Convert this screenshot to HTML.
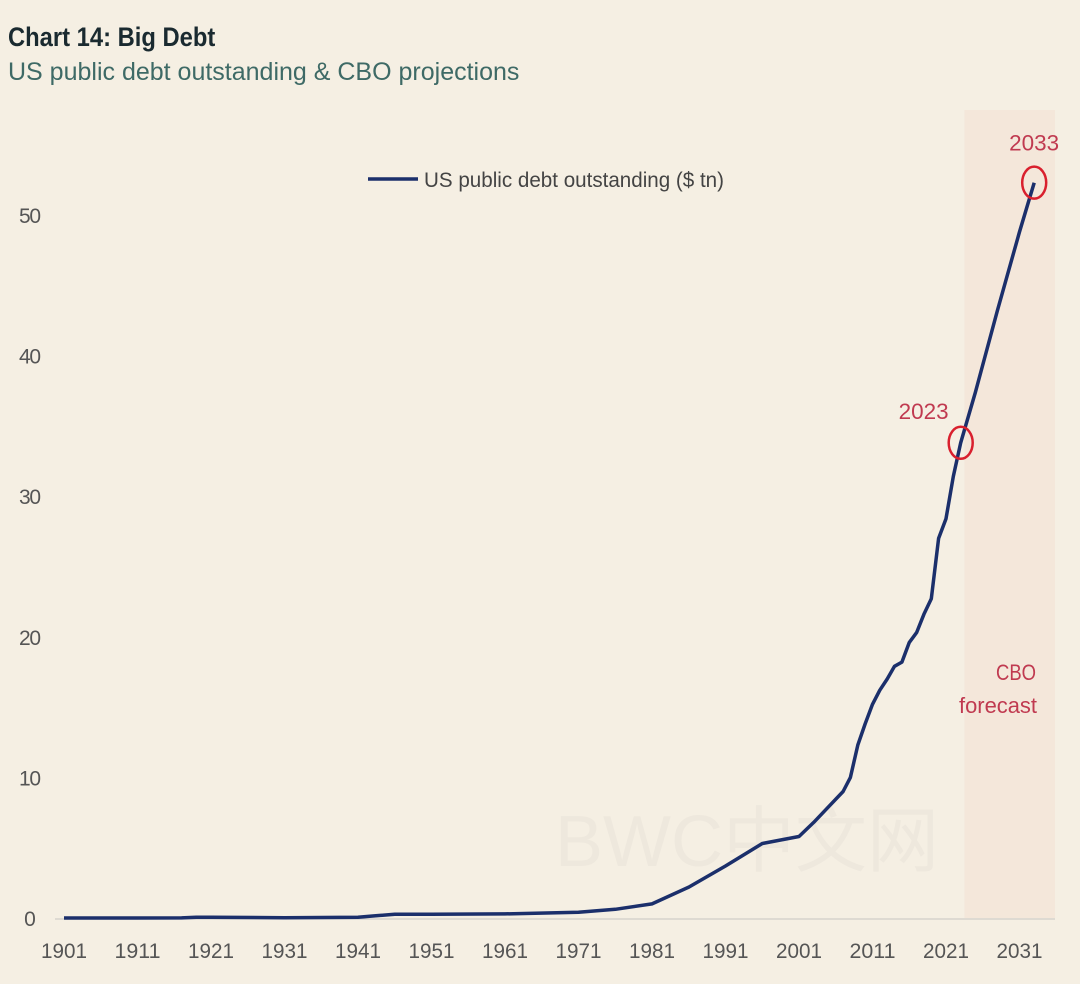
<!DOCTYPE html>
<html><head><meta charset="utf-8"><style>
html,body{margin:0;padding:0;background:#f5efe3;}
body{width:1080px;height:984px;overflow:hidden;position:relative;font-family:"Liberation Sans Narrow","Liberation Sans",sans-serif;}
.t{position:absolute;left:8px;top:22px;font-size:27px;font-weight:bold;color:#1a2a30;transform:scaleX(0.88);transform-origin:0 0;white-space:nowrap;}
.s{position:absolute;left:8px;top:58px;font-size:25px;color:#3e6a66;white-space:nowrap;}
</style></head><body>
<div class="t">Chart 14: Big Debt</div>
<div class="s">US public debt outstanding &amp; CBO projections</div>
<svg id="c" width="1080" height="984" style="position:absolute;left:0;top:0"></svg>
<script>
const years=[1901,1911,1917,1919,1921,1931,1941,1943,1946,1951,1961,1971,1976,1981,1986,1991,1996,2001,2003,2005,2007,2008,2009,2010,2011,2012,2013,2014,2015,2016,2017,2018,2019,2020,2021,2022,2023,2025,2028,2031,2033];
const debt=[0,0,0.01,0.05,0.05,0.02,0.05,0.14,0.27,0.26,0.29,0.41,0.62,1.0,2.2,3.7,5.3,5.8,6.8,7.9,9.0,10.0,12.3,13.8,15.2,16.2,17.0,17.9,18.2,19.6,20.3,21.6,22.7,27.0,28.4,31.4,33.8,37.4,43.2,48.8,52.3];
const yTicks=[0,10,20,30,40,50];
const xTicks=[1901,1911,1921,1931,1941,1951,1961,1971,1981,1991,2001,2011,2021,2031];
const marks=[2023,2033];
const svg=document.getElementById('c');const NS='http://www.w3.org/2000/svg';
const X=y=>64+(y-1901)*7.35;const Y=v=>918-v*14.06;
function el(t,a,txt){const e=document.createElementNS(NS,t);for(const k in a)e.setAttribute(k,a[k]);if(txt!=null)e.textContent=txt;svg.appendChild(e);return e;}
const band=el('rect',{x:X(2023.5),y:110,width:1055-X(2023.5),height:808,fill:'#f4e7da'});


const wm=el('text',{x:555,y:866,'font-size':72,fill:'#eee8dd','font-family':'Liberation Sans, Noto Sans CJK SC, sans-serif'},'BWC中文网');


const ax=el('line',{x1:55,x2:1055,y1:Y(0)+1,y2:Y(0)+1,stroke:'#c8c6c0','stroke-width':1});


yTicks.forEach(v=>{const t=el('text',{x:30,y:Y(v)+8,'font-size':21,fill:'#555','text-anchor':'middle',transform:'',style:'font-stretch:condensed'},String(v));
t.setAttribute('textLength',v===0?11:22);

});
xTicks.forEach(v=>{const t=el('text',{x:X(v)-23,y:958,'font-size':21,fill:'#555',textLength:46,lengthAdjust:'spacingAndGlyphs'},String(v));

});
const p=el('path',{d:years.map((y,i)=>(i?'L':'M')+X(y).toFixed(1)+','+Y(debt[i]).toFixed(1)).join(''),fill:'none',stroke:'#1b2f6b','stroke-width':3.5,'stroke-linejoin':'round'});


marks.forEach(m=>{const i=years.indexOf(m);const cx=X(m),cy=Y(debt[i]);
const c=el('ellipse',{cx:cx,cy:cy,rx:12,ry:16,fill:'none',stroke:'#d9202e','stroke-width':2.5});


const t=el('text',{x:cx-62,y:cy-24,'font-size':22,fill:'#c03a50',textLength:50,lengthAdjust:'spacingAndGlyphs'},String(m));
if(m===2033){t.setAttribute('x',cx-25);t.setAttribute('y',cy-32);}

});
const f1=el('text',{x:996,y:680,'font-size':22,fill:'#c03a50',textLength:40,lengthAdjust:'spacingAndGlyphs'},'CBO');


const f2=el('text',{x:959,y:713,'font-size':22,fill:'#c03a50',textLength:78,lengthAdjust:'spacingAndGlyphs'},'forecast');


const ll=el('line',{x1:368,x2:418,y1:179,y2:179,stroke:'#1b2f6b','stroke-width':3.5});


const lt=el('text',{x:424,y:187,'font-size':21,fill:'#444',textLength:300,lengthAdjust:'spacingAndGlyphs'},'US public debt outstanding ($ tn)');


</script>
</body></html>
